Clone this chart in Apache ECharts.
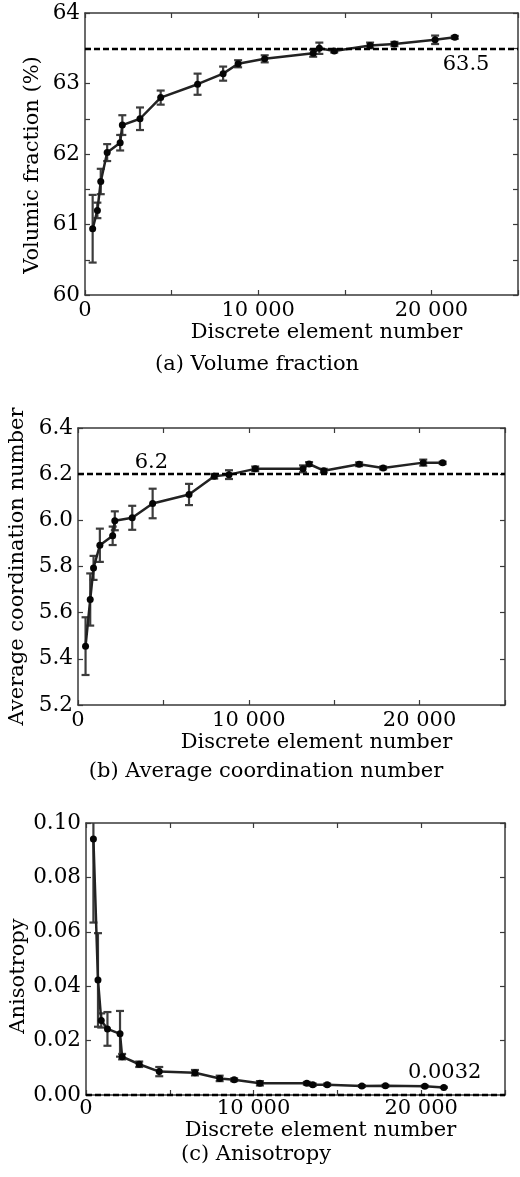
<!DOCTYPE html>
<html>
<head>
<meta charset="utf-8">
<script src="https://cdn.jsdelivr.net/npm/echarts@6/dist/echarts.min.js"></script>
<style>
html,body{margin:0;padding:0;background:#fff;}
#chart{width:520px;height:1177px;}
</style>
</head>
<body>
<div id="chart"></div>
<script>
// ---- data ----
const elementNumbers = [442, 715, 910, 1280, 2030, 2155, 3175, 4370, 6500, 7975, 8840, 10375, 13175, 13530, 14390, 16460, 17865, 20215, 21350];

const volumeFraction = [60.94, 61.20, 61.61, 62.02, 62.16, 62.41, 62.50, 62.80, 62.99, 63.14, 63.28, 63.35, 63.43, 63.50, 63.46, 63.54, 63.56, 63.62, 63.655];
const volumeFractionErr = [0.48, 0.11, 0.18, 0.12, 0.11, 0.14, 0.16, 0.10, 0.15, 0.10, 0.05, 0.05, 0.05, 0.08, 0.02, 0.04, 0.03, 0.06, 0.02];

const coordination = [5.455, 5.657, 5.794, 5.892, 5.933, 5.998, 6.011, 6.073, 6.112, 6.191, 6.198, 6.223, 6.223, 6.244, 6.215, 6.243, 6.227, 6.250, 6.249];
const coordinationErr = [0.125, 0.113, 0.052, 0.072, 0.040, 0.041, 0.052, 0.064, 0.046, 0.010, 0.019, 0.010, 0.015, 0.008, 0.008, 0.008, 0.006, 0.013, 0.005];

const anisotropy = [0.0941, 0.0423, 0.0274, 0.0243, 0.0225, 0.0141, 0.0113, 0.0086, 0.0082, 0.0061, 0.0056, 0.0043, 0.0043, 0.0038, 0.0038, 0.0033, 0.0034, 0.0032, 0.0028];
const anisotropyErr = [0.0307, 0.0172, 0.0026, 0.0062, 0.0084, 0.0010, 0.0010, 0.0017, 0.0010, 0.0010, 0.0005, 0.0008, 0.0005, 0.0004, 0.0004, 0.0003, 0.0003, 0.0003, 0.0002];

const referenceValues = [63.5, 6.2, 0.0032];
const referenceLabelX = [22000, 4300, 21400];

const yAxisNames = ['Volumic fraction (%)', 'Average coordination number', 'Anisotropy'];
const xAxisName = 'Discrete element number';
const captions = ['(a) Volume fraction', '(b) Average coordination number', '(c) Anisotropy'];

const xTickLabels = {0: '0', 10000: '10 000', 20000: '20 000'};
const yRanges = [[60, 64, 0.5], [5.2, 6.4, 0.2], [0, 0.1, 0.02]];

// ---- styling ----
const FONT = '"DejaVu Serif", serif';
const TXT = '#000';
const AX = '#3a3a3a';

const grids = [
  {left: 85, top: 13, width: 433, height: 282, containLabel: false, outerBoundsMode: 'none'},
  {left: 78, top: 428, width: 427, height: 277, containLabel: false, outerBoundsMode: 'none'},
  {left: 86, top: 823, width: 419, height: 272, containLabel: false, outerBoundsMode: 'none'}
];
const yNameGap = [42, 50, 57];
const yNamePad = [[0, 22, 0, 0], [0, 0, 0, 0], [0, 34, 0, 0]];
const xNameGap = [26, 26, 24];
const xLabelMargin = [5, 5, 3];
const refLabelOffset = [[0, 16], [0, -12], [0, -14]];

const datasets = [
  [volumeFraction, volumeFractionErr],
  [coordination, coordinationErr],
  [anisotropy, anisotropyErr]
];

function yLabelFmt(i) {
  return function (v) {
    if (i === 0) { return Math.abs(v - Math.round(v)) < 1e-6 ? String(Math.round(v)) : ''; }
    if (i === 1) { return v.toFixed(1); }
    return v.toFixed(2);
  };
}
function refLabelText(i) {
  return String(referenceValues[i]);
}

const tick = {show: true, inside: true, length: 5, lineStyle: {color: AX, width: 1.2}};
const line = {show: true, onZero: false, lineStyle: {color: AX, width: 1.5}};

const xAxes = [], yAxes = [], series = [];
grids.forEach(function (g, i) {
  const r = yRanges[i];
  xAxes.push({
    type: 'value', gridIndex: i, min: 0, max: 25000, interval: 5000,
    axisLine: line, axisTick: tick, splitLine: {show: false},
    axisLabel: {
      margin: xLabelMargin[i], color: TXT, fontFamily: FONT, fontSize: 21,
      formatter: function (v) { return xTickLabels[v] !== undefined ? xTickLabels[v] : ''; }
    },
    name: xAxisName, nameLocation: 'middle', nameGap: xNameGap[i],
    nameTextStyle: {color: TXT, fontFamily: FONT, fontSize: 21, padding: [0, 0, 0, 50]}
  });
  xAxes.push({
    type: 'value', gridIndex: i, position: 'top', min: 0, max: 25000, interval: 5000,
    axisLine: line, axisTick: tick, axisLabel: {show: false}, splitLine: {show: false}
  });
  yAxes.push({
    type: 'value', gridIndex: i, min: r[0], max: r[1], interval: r[2],
    axisLine: line, axisTick: tick, splitLine: {show: false},
    axisLabel: {margin: 5, color: TXT, fontFamily: FONT, fontSize: 21.5, formatter: yLabelFmt(i)},
    name: yAxisNames[i], nameLocation: 'middle', nameGap: yNameGap[i], nameMoveOverlap: false,
    nameTextStyle: {color: TXT, fontFamily: FONT, fontSize: 21, padding: yNamePad[i]}
  });
  yAxes.push({
    type: 'value', gridIndex: i, position: 'right', min: r[0], max: r[1], interval: r[2],
    axisLine: line, axisTick: tick, axisLabel: {show: false}, splitLine: {show: false}
  });

  const vals = datasets[i][0], errs = datasets[i][1];
  series.push({
    type: 'custom', xAxisIndex: 2 * i, yAxisIndex: 2 * i, clip: true, z: 3,
    data: elementNumbers.map(function (x, k) { return [x, vals[k], errs[k]]; }),
    renderItem: function (params, api) {
      const x = api.value(0), y = api.value(1), e = api.value(2);
      const t = api.coord([x, y + e]);
      const b = api.coord([x, y - e]);
      const hw = 4;
      const st = {stroke: '#3c3c3c', lineWidth: 2.2};
      return {
        type: 'group',
        children: [
          {type: 'line', shape: {x1: t[0], y1: t[1], x2: b[0], y2: b[1]}, style: st},
          {type: 'line', shape: {x1: t[0] - hw, y1: t[1], x2: t[0] + hw, y2: t[1]}, style: st},
          {type: 'line', shape: {x1: b[0] - hw, y1: b[1], x2: b[0] + hw, y2: b[1]}, style: st}
        ]
      };
    }
  });
  series.push({
    type: 'line', xAxisIndex: 2 * i, yAxisIndex: 2 * i, z: 4,
    data: elementNumbers.map(function (x, k) { return [x, vals[k]]; }),
    symbol: 'circle', symbolSize: 7, showSymbol: true,
    itemStyle: {color: '#050505'},
    lineStyle: {color: '#222', width: 2.5},
    markLine: {
      silent: true, symbol: 'none', animation: false,
      lineStyle: {color: '#000', width: 2.4, type: [6, 3]},
      label: {show: false},
      data: [{yAxis: referenceValues[i]}]
    },
    markPoint: {
      silent: true, symbol: 'rect', symbolSize: 1, animation: false,
      itemStyle: {color: 'rgba(0,0,0,0)'},
      label: {
        show: true, position: 'inside', offset: refLabelOffset[i],
        color: TXT, fontFamily: FONT, fontSize: 21,
        formatter: refLabelText(i)
      },
      data: [{coord: [referenceLabelX[i], referenceValues[i]]}]
    }
  });
});

const captionPos = [[257, 365], [266, 772], [256, 1155]];
const graphic = captions.map(function (c, i) {
  return {
    type: 'text', x: captionPos[i][0], y: captionPos[i][1],
    style: {text: c, fill: TXT, font: '21px ' + FONT, align: 'center', verticalAlign: 'middle'}
  };
});

const chart = echarts.init(document.getElementById('chart'), null, {renderer: 'canvas'});
chart.setOption({
  animation: false,
  backgroundColor: '#fff',
  grid: grids,
  xAxis: xAxes,
  yAxis: yAxes,
  series: series,
  graphic: graphic
});
</script>
</body>
</html>
